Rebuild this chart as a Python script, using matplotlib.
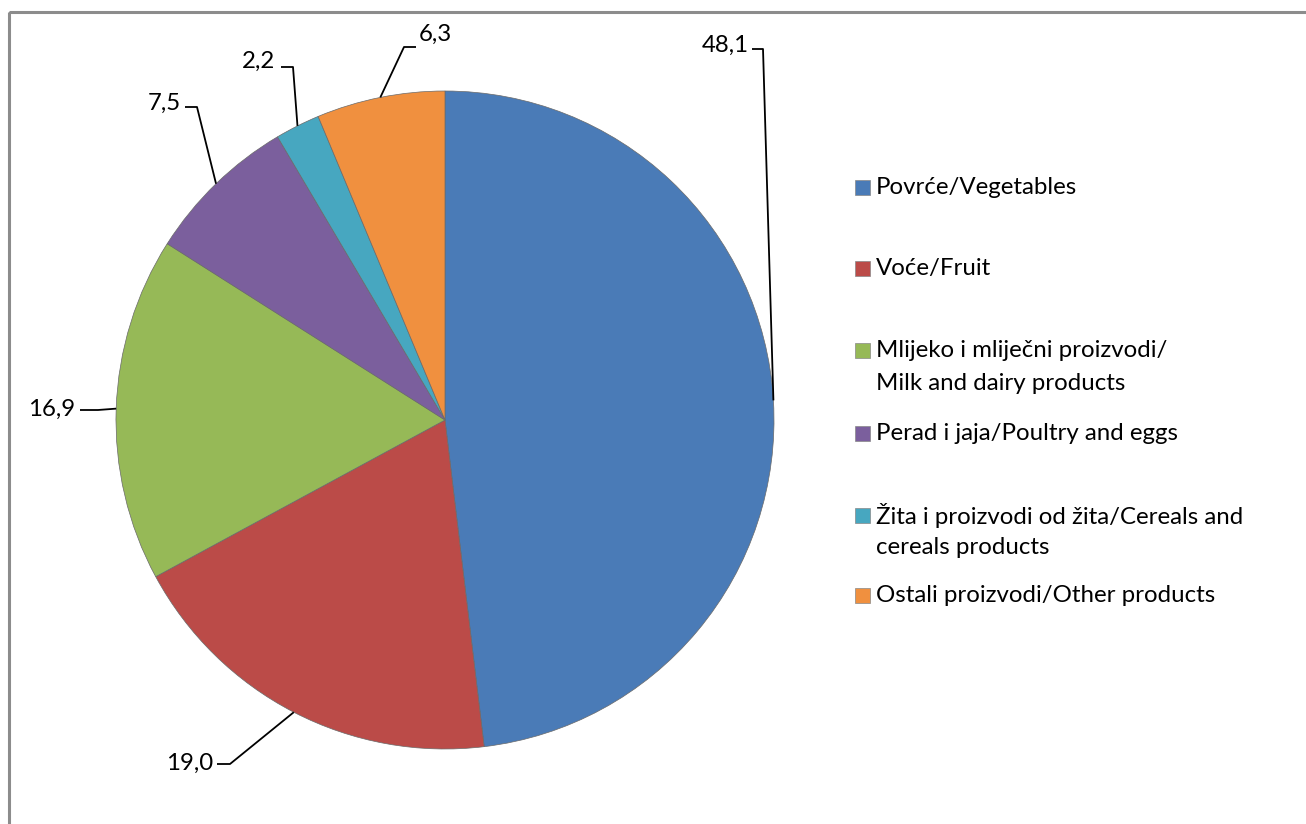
import matplotlib
matplotlib.use("Agg")
import matplotlib.pyplot as plt
import numpy as np
from matplotlib.patches import Rectangle

categories = ["Povrće/Vegetables", "Voće/Fruit",
              "Mlijeko i mliječni proizvodi/\nMilk and dairy products",
              "Perad i jaja/Poultry and eggs",
              "Žita i proizvodi od žita/Cereals and\ncereals products",
              "Ostali proizvodi/Other products"]
values = [48.1, 19.0, 16.9, 7.5, 2.2, 6.3]
value_labels = ["48,1", "19,0", "16,9", "7,5", "2,2", "6,3"]
colors = ["#4a7bb7", "#bb4b48", "#96b957", "#7b5f9d", "#47a7c0", "#f0903f"]

W, H = 1306, 824
fig = plt.figure(figsize=(W / 100, H / 100), dpi=100)
ax = fig.add_axes([0, 0, 1, 1])

cx, cy, R = 445, 420, 329
wedges, _ = ax.pie(values, colors=colors, startangle=-90, counterclock=True,
                   center=(cx, cy), radius=R, frame=True,
                   wedgeprops=dict(edgecolor="#6a6a6a", linewidth=0.5))
ax.set_xlim(0, W)
ax.set_ylim(H, 0)
ax.set_aspect("equal")
ax.axis("off")

# frame (only top/left visible in reference)
ax.add_patch(Rectangle((9, 12), 1320, 840, fill=False, edgecolor="#8c8c8c", lw=2.2))

font = "Lato"
fs = 17.3

leaders = [
    [(763, 49), (752, 49), "right", (749, 45)],
    [(230, 764), (217, 764), "right", (213, 763)],
    [(98, 410), (80, 410), "right", (75, 409)],
    [(197, 107), (185, 107), "right", (181, 103)],
    [(293, 67), (281, 67), "right", (275, 61)],
    [(404, 47), (416, 47), "left", (419, 34)],
]
total = sum(values)
start = 90.0
for i, v in enumerate(values):
    span = v / total * 360
    mid = np.deg2rad(start - span / 2)
    start -= span
    px, py = cx + R * np.cos(mid), cy - R * np.sin(mid)
    elbow, end, ha, tpos = leaders[i]
    ax.plot([px, elbow[0], end[0]], [py, elbow[1], end[1]], color="black", lw=1.3,
            solid_capstyle="butt")
    ax.text(tpos[0], tpos[1], value_labels[i], ha=ha, va="center",
            fontsize=fs, family=font, color="black")

# legend
ly = [187, 268, 350, 433, 515, 595]
for i, cat in enumerate(categories):
    ax.add_patch(Rectangle((855, ly[i] - 7), 15, 15, facecolor=colors[i],
                           edgecolor="#888888", lw=0.5))
    lines = cat.split("\n")
    for j, line in enumerate(lines):
        ax.text(876, ly[i] + j * 33, line, ha="left", va="center",
                fontsize=fs, family=font, color="black")

fig.savefig("out.png", dpi=100)
